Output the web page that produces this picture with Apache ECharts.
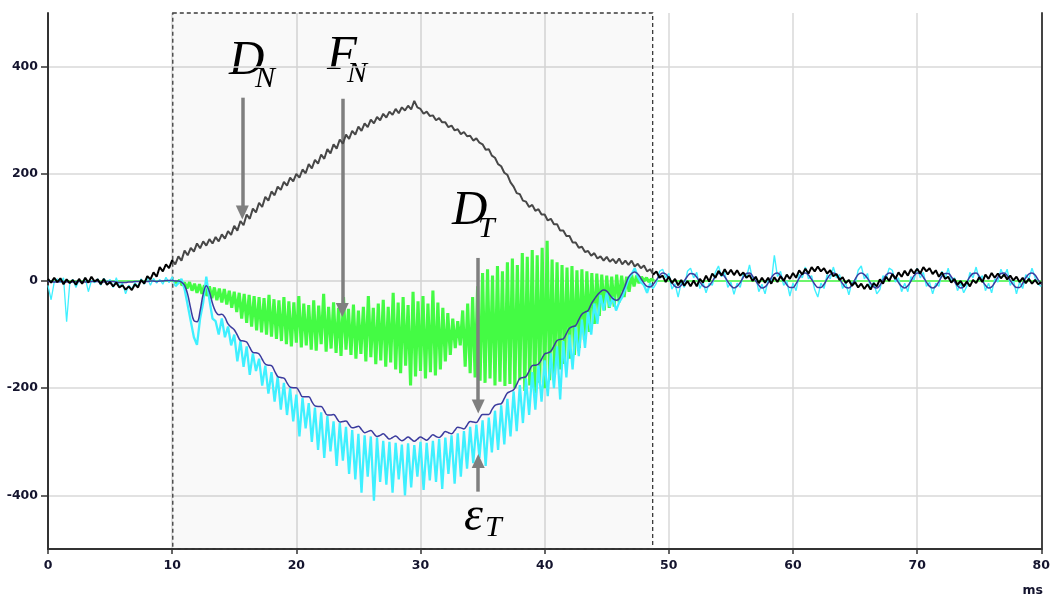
<!DOCTYPE html>
<html><head><meta charset="utf-8">
<script src="https://cdn.jsdelivr.net/npm/echarts@6/dist/echarts.min.js"></script>
<style>html,body{margin:0;padding:0;background:#fff}#c{width:1053px;height:599px}</style>
</head><body><div id="c"></div>
<script>
// time axis ticks / labels
const xLabels=[0,10,20,30,40,50,60,70,80];
const yLabels=[-400,-200,0,200,400];
// shaded window (ms)
const windowStart=10.05, windowEnd=48.7;

// D_N (black) : start 0 ms, step 0.25 ms
const dnStart=0, dnStep=0.25;
const dnValues=[
4,-3,6,-2, 5,-6,3,-4, 2,-7,4,-5, 6,-3,8,-1, 3,-6,4,-7, -2,-10,-3,-12, -8,-16,-10,-17, -6,-12,2,-5, 9,3,16,8, 26,18,31,24,
39,31,46,38, 57,48,62,55, 70,61,74,66, 78,70,82,74, 87,79,93,86, 103,94,112,104, 124,116,135,128, 146,138,157,150, 167,160,176,170, 185,178,193,186,
200,193,208,201, 218,210,226,219, 236,228,246,238, 255,247,264,256, 273,265,280,273, 288,280,294,287, 301,294,306,300, 312,305,316,310, 321,313,324,318, 327,320,336,324,
321,312,316,308, 309,300,304,296, 296,287,290,281, 283,274,278,270, 271,262,266,258, 255,245,246,234, 230,218,214,202, 198,184,176,164, 162,150,148,138, 142,131,134,124,
124,113,116,106, 106,94,94,84, 84,72,72,62, 64,54,56,47, 52,42,46,38, 45,36,41,33, 42,31,38,30, 38,27,32,24, 29,18,22,12, 18,6,10,-2,
8,-4,4,-8, 2,-9,0,-10, 1,-10,4,-3, 10,-1,14,6, 19,10,22,12, 21,11,20,10, 16,6,11,0, 8,-4,6,-3, 6,-5,7,-2, 9,0,12,4,
15,6,20,12, 23,14,26,18, 27,18,24,14, 20,9,13,2, 7,-4,2,-9, -2,-12,-5,-15, -6,-16,-4,-10, 3,-5,8,0, 13,4,16,8, 19,10,22,14,
23,14,26,18, 24,13,20,8, 16,4,8,-3, 4,-7,0,-10, -1,-10,2,-4, 7,-2,12,4, 15,6,14,5, 12,3,10,1, 8,-2,6,-4, 4,-5,2,-6,
-2];

// D_T (navy) : start 0 ms, step 0.25 ms
const dtStart=0, dtStep=0.25;
const dtValues=[
-1,-1,-2,-2, -1,-1,-2,-2, -2,-1,-1,-2, -2,-2,-1,-1, -1,-2,-2,-1, -1,-1,-2,-3, -3,-3,-2,-2, -1,-1,-1,-1, -1,0,0,-1, 0,0,1,1,
1,0,0,-2, -8,-25,-52,-74, -76,-56,-24,-9, -20,-42,-57,-63, -62,-68,-80,-86, -91,-101,-111,-112, -114,-124,-133,-134, -136,-146,-155,-157, -158,-168,-178,-180, -181,-190,-198,-199,
-199,-207,-216,-216, -216,-225,-233,-234, -234,-242,-250,-250, -249,-256,-263,-262, -261,-268,-274,-273, -271,-277,-283,-281, -279,-285,-290,-288, -285,-290,-295,-292, -289,-294,-298,-295, -291,-295,-299,-295,
-291,-294,-297,-292, -287,-290,-292,-287, -281,-283,-285,-279, -273,-274,-276,-269, -262,-263,-264,-256, -249,-249,-249,-240, -232,-230,-229,-219, -209,-206,-203,-193, -182,-180,-178,-168, -158,-157,-155,-146,
-136,-134,-131,-121, -111,-109,-108,-98, -88,-85,-83,-72, -62,-58,-55,-43, -34,-26,-20,-17, -19,-26,-33,-36, -33,-22,-8,7, 14,17,13,5, -4,-10,-11,-6, 2,10,15,13,
6,-3,-10,-12, -8,0,9,14, 13,7,-2,-9, -12,-9,-1,8, 14,14,8,-1, -9,-13,-10,-3, 7,14,15,9, 0,-8,-13,-11, -4,6,13,15, 10,2,-7,-12,
-12,-5,5,13, 15,11,3,-6, -12,-12,-6,4, 12,15,12,4, -5,-12,-13,-7, 3,12,15,12, 5,-4,-11,-13, -8,2,11,15, 13,6,-3,-10, -13,-9,0,10,
15,14,7,-2, -10,-13,-10,-1, 9,14,14,8, -1,-9,-13,-11, -2,8,14,15, 9,0,-8,-13, -11,-3,7,14, 15,10,1,-7, -12,-12,-4,6, 13,15,11,2,
-6];

// epsilon_T (cyan) : start 0 ms, step 0.25 ms
const etStart=0, etStep=0.25;
const etValues=[
-8,-35,-2,4, -3,6,-76,-5, 3,-12,2,-4, 6,-20,1,-3, 4,-8,5,-2, 3,-12,6,-10, -4,-24,-8,-15, -3,-10,4,-6, 6,-8,5,-4, 3,-6,7,-3,
8,-10,-4,4, -15,-45,-75,-105, -119,-70,-40,8, -35,-70,-75,-100, -70,-105,-85,-120, -100,-150,-112,-160, -122,-175,-135,-168, -145,-195,-158,-210, -170,-225,-178,-240, -190,-250,-200,-262,
-212,-290,-218,-275, -228,-300,-236,-315, -245,-330,-252,-318, -262,-345,-265,-335, -272,-360,-278,-370, -285,-395,-288,-365, -290,-410,-292,-375, -298,-380,-300,-395, -302,-370,-305,-400, -303,-385,-306,-365,
-300,-390,-302,-372, -298,-375,-295,-388, -292,-360,-288,-378, -284,-365,-280,-350, -272,-340,-268,-330, -260,-345,-255,-320, -242,-315,-232,-305, -220,-290,-206,-280, -194,-265,-182,-250, -170,-240,-158,-225,
-148,-215,-135,-200, -122,-221,-112,-180, -100,-165,-86,-140, -72,-125,-58,-100, -42,-80,-26,-55, -22,-48,-30,-55, -40,-30,-14,4, 12,24,8,-2, -8,-22,-4,-14, -4,18,22,6,
14,-15,-5,-30, -2,-12,18,24, 6,16,-14,-2, -22,-4,-8,16, 28,8,16,-12, -2,-25,-4,-12, 14,6,30,2, 8,-20,-6,-24, 2,-4,48,8, 18,-8,0,-28,
-4,-18,12,6, 26,4,10,-16, -30,-4,-14,12, 4,26,6,12, -14,-4,-26,-2, -6,20,28,4, 14,-14,-2,-24, -16,10,4,24, 20,-2,6,-20, -4,-20,8,2,
24,6,16,-10, -2,-24,-4,-10, 18,4,24,0, 6,-18,-4,-22, -10,16,6,26, 2,10,-18,-4, -22,4,-2,22, 8,22,-8,2, -24,-2,-14,12, 4,24,6,-6,
-10];

// F_N (green) : start 10.2 ms, step 0.2 ms ; flat zero outside
const fnStart=10.2, fnStep=0.2;
const fnValues=[
0,-4,2,-8,-3,
-14,-2,-18,-5,-22, -6,-24,-8,-28,-10, -32,-12,-36,-14,-40, -15,-44,-18,-50,-20, -58,-22,-70,-24,-78,
-26,-85,-28,-92,-30, -96,-32,-100,-26,-104, -34,-108,-36,-112,-30, -118,-38,-122,-40,-115, -28,-124,-42,-120,-45,
-128,-36,-130,-46,-118, -24,-132,-48,-126,-40, -134,-50,-140,-30,-128, -52,-138,-44,-145,-55, -136,-48,-150,-28,-142,
-50,-155,-42,-148,-35, -160,-48,-152,-22,-165, -40,-172,-30,-158,-45, -195,-20,-178,-38,-168, -28,-182,-42,-170,-18,
-176,-40,-165,-50,-150, -60,-138,-70,-125,-75, -120,-55,-160,-42,-172, -30,-180,-10,-186,15, -190,22,-182,10,-195,
28,-188,18,-196,35, -192,42,-200,30,-185, 52,-205,45,-195,58, -210,48,-190,62,-200, 75,-185,40,-175,35,
-165,30,-155,25,-145, 28,-138,20,-125,22, -110,18,-95,15,-80, 14,-65,12,-55,10, -50,8,-48,12,-40,
10,-30,8,-20,12, -10,10,-4,8,0,
6,-2,4,0];
const fnEdgeTimes=[0,80], fnEdgeValues=[0,0];

// annotation arrows (ms, value)
const arrowX=[15.65,23.7,34.65,34.65];
const arrowFrom=[342,340,43,-393];
const arrowTo=[128,-54,-234,-336];

const toPairs=(s,st,vals)=>vals.map((v,i)=>[+(s+i*st).toFixed(3),v]);
const dnData=toPairs(dnStart,dnStep,dnValues);
const dtData=toPairs(dtStart,dtStep,dtValues);
const etData=toPairs(etStart,etStep,etValues);
const fnCore=toPairs(fnStart,fnStep,fnValues);
const fnLead=[[fnEdgeTimes[0],fnEdgeValues[0]],fnCore[0]];
const fnTail=[fnCore[fnCore.length-1],[fnEdgeTimes[1],fnEdgeValues[1]]];
// cyan drawn heavier inside the window (dense noise), thin outside
const etPre=etData.filter(p=>p[0]<=10.25);
const etIn=etData.filter(p=>p[0]>=10.25&&p[0]<=48.75);
const etPost=etData.filter(p=>p[0]>=48.75);

const labelFont={fontFamily:'DejaVu Sans',fontWeight:'bold',fontSize:12.5,color:'#14142e'};
const GREEN='#44fb44', CYAN='#3ff0ff';
const line=(name,data,color,width,z,extra)=>Object.assign({type:'line',name,data,showSymbol:false,symbol:'none',z,lineStyle:{color,width,join:'bevel'}},extra||{});
const chart=echarts.init(document.getElementById('c'),null,{renderer:'canvas'});
chart.setOption({
  animation:false,
  backgroundColor:'#ffffff',
  grid:{left:48,right:10,top:13,bottom:50},
  xAxis:{type:'value',min:0,max:80,interval:5,
    axisLine:{show:true,onZero:false,lineStyle:{color:'#333',width:2}},
    axisTick:{show:true,length:5,customValues:xLabels,lineStyle:{color:'#333',width:1.5}},
    axisLabel:Object.assign({margin:10,customValues:xLabels},labelFont),
    splitLine:{show:true,lineStyle:{color:'#d8d8d8',width:1.5}}},
  yAxis:[{type:'value',min:-500,max:500,interval:100,
    axisLine:{show:true,lineStyle:{color:'#333',width:2}},
    axisTick:{show:true,length:7,customValues:yLabels,lineStyle:{color:'#333',width:1.5}},
    axisLabel:Object.assign({margin:10,customValues:yLabels},labelFont),
    splitLine:{show:true,lineStyle:{color:'#d8d8d8',width:1.5}}},
   {type:'value',min:-500,max:500,position:'right',
    axisLine:{show:true,lineStyle:{color:'#444',width:2}},
    axisTick:{show:false},axisLabel:{show:false},splitLine:{show:false}}],
  visualMap:{show:false,type:'piecewise',seriesIndex:7,dimension:0,
    pieces:[{lt:windowStart,color:'#000000'},{gte:windowStart,lte:windowEnd,color:'#474747'},{gt:windowEnd,color:'#000000'}]},
  series:[
    line('FN',fnCore,GREEN,3.1,2,{
     markArea:{silent:true,itemStyle:{color:'rgba(0,0,0,0.025)',borderColor:'#3a3a3a',borderWidth:1.3,borderType:[4,3]},
       data:[[{xAxis:windowStart,yAxis:500},{xAxis:windowEnd,yAxis:-500}]]}}),
    line('FN',fnLead,GREEN,1.5,2),
    line('FN',fnTail,GREEN,1.5,2),
    line('ET',etPre,CYAN,1.3,3),
    line('ET',etIn,CYAN,2.3,3),
    line('ET',etPost,CYAN,1.4,3),
    line('DT',dtData,'#3b3b9e',1.5,4,{smooth:0.4}),
    {type:'line',name:'DN',data:dnData,showSymbol:false,symbol:'none',z:5,lineStyle:{width:2}},
    {type:'line',name:'arrows',data:[],z:6,
     markLine:{silent:true,label:{show:false},
       lineStyle:{color:'#7f7f7f',width:3.5,type:'solid'},
       data:arrowX.map((x,i)=>[{coord:[x,arrowFrom[i]],symbol:'none'},{coord:[x,arrowTo[i]],symbol:'triangle',symbolSize:[13,14]}])}}
  ],
  graphic:[
    {type:'text',x:229,y:61,style:{text:'D',font:'italic 49px "Liberation Serif"',fill:'#000',align:'left',verticalAlign:'middle'}},
    {type:'text',x:255,y:79,style:{text:'N',font:'italic 30px "Liberation Serif"',fill:'#000',align:'left',verticalAlign:'middle'}},
    {type:'text',x:327,y:56,style:{text:'F',font:'italic 49px "Liberation Serif"',fill:'#000',align:'left',verticalAlign:'middle'}},
    {type:'text',x:347,y:74,style:{text:'N',font:'italic 30px "Liberation Serif"',fill:'#000',align:'left',verticalAlign:'middle'}},
    {type:'text',x:452,y:211,style:{text:'D',font:'italic 49px "Liberation Serif"',fill:'#000',align:'left',verticalAlign:'middle'}},
    {type:'text',x:478,y:229,style:{text:'T',font:'italic 30px "Liberation Serif"',fill:'#000',align:'left',verticalAlign:'middle'}},
    {type:'text',x:464,y:517,style:{text:'ε',font:'italic 48px "Liberation Serif"',fill:'#000',align:'left',verticalAlign:'middle'}},
    {type:'text',x:485,y:528,style:{text:'T',font:'italic 30px "Liberation Serif"',fill:'#000',align:'left',verticalAlign:'middle'}},
    {type:'text',x:1043,y:591,style:{text:'ms',font:'bold 12.5px "DejaVu Sans"',fill:'#14142e',align:'right',verticalAlign:'middle'}}
  ]
});
</script></body></html>
